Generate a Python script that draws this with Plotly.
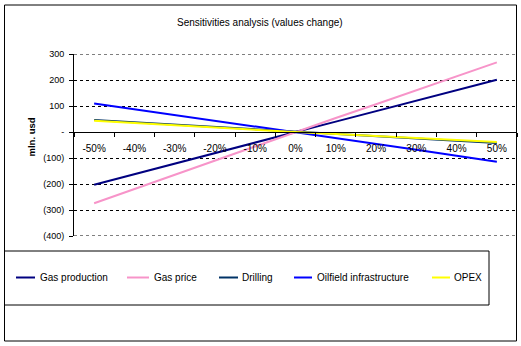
import plotly.graph_objects as go

# ---- data ----
categories = ["-50%", "-40%", "-30%", "-20%", "-10%", "0%", "10%", "20%", "30%", "40%", "50%"]
gas_production = [-203, -162, -122, -81, -40, 0, 40, 81, 121, 161, 201]
gas_price = [-274, -219, -164, -110, -55, 0, 54, 107, 161, 214, 268]
drilling = [46, 37, 28, 18, 9, 0, -8, -17, -25, -34, -42]
oilfield_infrastructure = [110, 88, 66, 44, 22, 0, -23, -46, -68, -91, -114]
opex = [43, 34, 26, 17, 9, 0, -8, -15, -23, -30, -38]
series_names = ["Gas production", "Gas price", "Drilling", "Oilfield infrastructure", "OPEX"]
ytick_vals = [300, 200, 100, 0, -100, -200, -300, -400]
ytick_text = ["300", "200", "100", "-", "(100)", "(200)", "(300)", "(400)"]

series_values = [gas_production, gas_price, drilling, oilfield_infrastructure, opex]
colors = ["#000080", "#F794C9", "#003366", "#0000FF", "#FFFF00"]

W, H = 521, 346
L, R, T, B = 74, 4, 54, 110
PW = W - L - R
PH = H - T - B
Y_MIN, Y_MAX = ytick_vals[-1], ytick_vals[0]

def px(x):
    return (x - L) / PW

def py(y):
    return (H - B - y) / PH

FONT = "Arial, Liberation Sans, sans-serif"

fig = go.Figure()
for name, vals, col in zip(series_names, series_values, colors):
    fig.add_trace(go.Scatter(x=categories, y=vals, mode="lines", name=name,
                             line=dict(color=col, width=2), showlegend=False))

fig.update_layout(
    width=W, height=H,
    margin=dict(l=L, r=R, t=T, b=B, pad=0),
    paper_bgcolor="white", plot_bgcolor="white",
    font=dict(family=FONT, size=10, color="black"),
    showlegend=False,
)

fig.update_xaxes(
    type="category", range=[-0.5, 10.5],
    anchor="free", position=(0 - Y_MIN) / (Y_MAX - Y_MIN),
    showline=True, linecolor="black", linewidth=1,
    ticks="outside", tickson="boundaries", ticklen=4, tickcolor="black",
    showgrid=False, zeroline=False,
    tickfont=dict(size=10, family=FONT),
    ticklabelstandoff=7,
)
fig.update_yaxes(
    range=[Y_MIN, Y_MAX], tickvals=ytick_vals, ticktext=ytick_text,
    showline=True, linecolor="black", linewidth=1,
    ticks="outside", ticklen=4, tickcolor="black",
    showgrid=True, gridcolor="black", gridwidth=1, griddash="3px,3px",
    zeroline=False,
    tickfont=dict(size=9, family=FONT),
    ticklabelstandoff=3,
)

shapes = []
# gridlines at the top and bottom edges of the value range (plotly skips them)
for v in (Y_MAX, Y_MIN):
    shapes.append(dict(type="line", xref="paper", yref="y", x0=0, x1=1, y0=v, y1=v,
                       line=dict(color="black", width=1, dash="3px,3px"), layer="below"))
# outer border
shapes.append(dict(type="rect", xref="paper", yref="paper",
                   x0=px(4.5), x1=px(516.5), y0=py(341), y1=py(5),
                   line=dict(color="black", width=1), fillcolor="rgba(0,0,0,0)", layer="above"))
# legend box
shapes.append(dict(type="rect", xref="paper", yref="paper",
                   x0=px(4.5), x1=px(489), y0=py(305), y1=py(251),
                   line=dict(color="black", width=1), fillcolor="rgba(0,0,0,0)"))

annotations = []
leg_lines = [(16, 35), (127, 149), (219, 238), (294, 312), (432, 450)]
leg_text_x = [37.5, 152, 239.5, 314.5, 452]
leg_y = 277.5
for (x0, x1), tx, name, col in zip(leg_lines, leg_text_x, series_names, colors):
    shapes.append(dict(type="line", xref="paper", yref="paper",
                       x0=px(x0), x1=px(x1), y0=py(leg_y), y1=py(leg_y),
                       line=dict(color=col, width=2)))
    annotations.append(dict(xref="paper", yref="paper", x=px(tx), y=py(leg_y),
                            text=name, showarrow=False, xanchor="left", yanchor="middle",
                            font=dict(size=10, family=FONT, color="black")))

# title
annotations.append(dict(xref="paper", yref="paper", x=px(259.5), y=py(23),
                        text="Sensitivities analysis (values change)", showarrow=False,
                        xanchor="center", yanchor="middle",
                        font=dict(size=10, family=FONT, color="black")))
# y axis title
annotations.append(dict(xref="paper", yref="paper", x=px(31), y=py(137.5),
                        text="<b>mln. usd</b>", showarrow=False, textangle=-90,
                        xanchor="center", yanchor="middle",
                        font=dict(size=9.5, family="Liberation Sans Narrow, Arial Narrow, Arial", color="black")))

fig.update_layout(shapes=shapes, annotations=annotations)

fig.write_html("out.html")
